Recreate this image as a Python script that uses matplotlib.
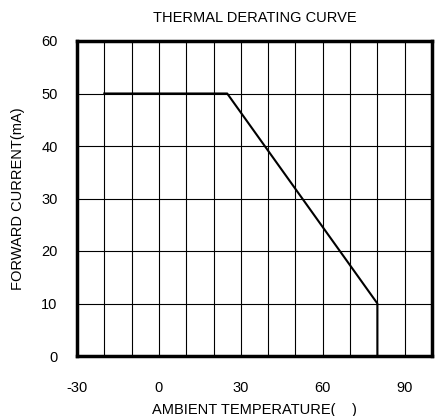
import matplotlib
matplotlib.use("Agg")
import matplotlib.pyplot as plt

plt.rcParams["font.family"] = ["Liberation Sans Narrow", "Liberation Sans", "DejaVu Sans"]
plt.rcParams["axes.unicode_minus"] = False

temp = [-20, 25, 80, 80]
current = [50, 50, 10, 0]
xticks = [-30, 0, 30, 60, 90]
yticks = [0, 10, 20, 30, 40, 50, 60]

fig = plt.figure(figsize=(4.37, 4.16), dpi=100)
ax = fig.add_axes([77 / 437, 60 / 416, 355 / 437, 315 / 416])

ax.set_xlim(-30, 100)
ax.set_ylim(0, 60)
for x in range(-20, 100, 10):
    ax.axvline(x, color="black", lw=0.8, zorder=1)
for y in range(10, 60, 10):
    ax.axhline(y, color="black", lw=0.8, zorder=1)

ax.plot(temp, current, color="black", lw=1.5, zorder=2)

ax.set_xticks(xticks)
ax.set_yticks(yticks)
ax.tick_params(length=0, labelsize=10.5)
ax.tick_params(axis="x", pad=18)
ax.tick_params(axis="y", pad=14)
for s in ax.spines.values():
    s.set_linewidth(2.5)

ax.set_title("THERMAL DERATING CURVE", fontsize=10.5, pad=14)
ax.set_xlabel("AMBIENT TEMPERATURE(    )", fontsize=10.5, labelpad=6)
ax.set_ylabel("FORWARD CURRENT(mA)", fontsize=10.5, labelpad=12)

fig.savefig("out.png", dpi=100)
